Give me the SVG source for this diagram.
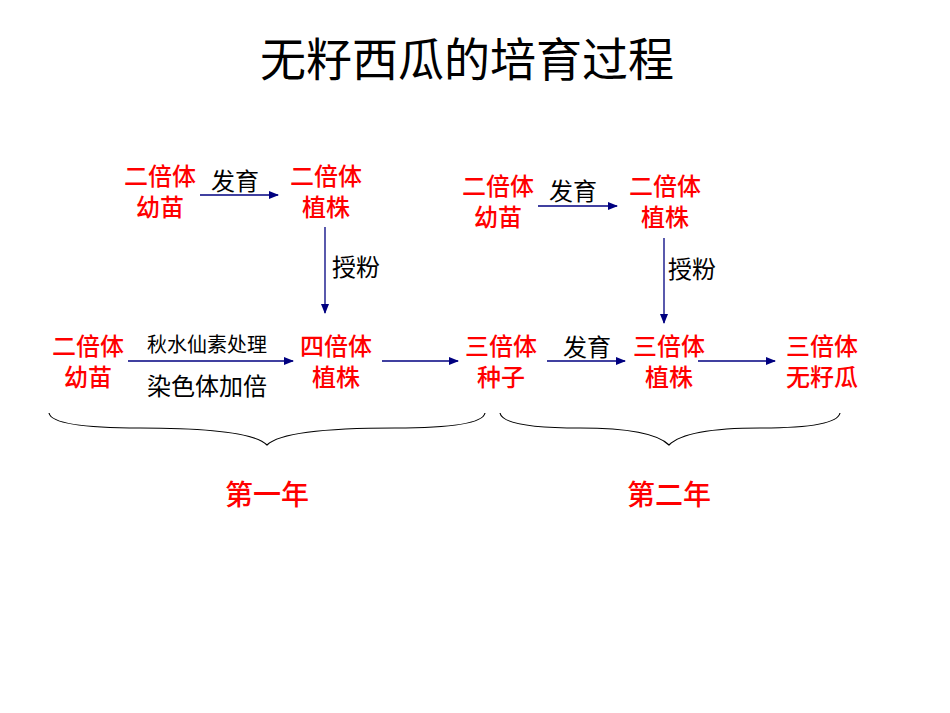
<svg xmlns="http://www.w3.org/2000/svg" width="950" height="713" viewBox="0 0 950 713">
<style>
text{font-family:"Noto Sans CJK SC","Liberation Sans",sans-serif;text-anchor:middle}
.r{fill:#ff0000;font-size:24px;font-weight:500}
.k{fill:#000;font-size:24px}
.s{fill:#000;font-size:20px}
.y{fill:#ff0000;font-size:28px;font-weight:500}
.a{stroke:#000080;stroke-width:1.3;fill:none;marker-end:url(#ah)}
.b{stroke:#000;stroke-width:1.2;fill:none}
</style>
<defs><marker id="ah" markerWidth="10" markerHeight="8" refX="9" refY="4" orient="auto" markerUnits="userSpaceOnUse"><path d="M0,0 L10,4 L0,8z" fill="#000080"/></marker></defs>
<rect width="950" height="713" fill="#fff"/>
<text x="467" y="76" style="font-size:46px;fill:#000">无籽西瓜的培育过程</text>
<g id="connectors">
<path class="a" d="M200,195H278"/>
<path class="a" d="M325,227V313"/>
<path class="a" d="M128,361H293"/>
<path class="a" d="M382,361H458"/>
<path class="a" d="M538,206H617"/>
<path class="a" d="M664,238V323"/>
<path class="a" d="M547,361H625"/>
<path class="a" d="M698,361H775"/>
<path class="b" d="M49,413 Q52,428 140,428 Q250,428 267,445 Q284,428 395,428 Q482,428 485,413"/>
<path class="b" d="M500,413 Q503,428 580,428 Q652,428 669,445 Q686,428 760,428 Q837,428 840,413"/>
</g>
<g id="labels">
<text class="k" x="235" y="190">发育</text>
<text class="k" x="356" y="276">授粉</text>
<text class="s" x="207" y="352">秋水仙素处理</text>
<text class="k" x="207" y="395">染色体加倍</text>
<text class="k" x="573" y="200">发育</text>
<text class="k" x="692" y="278">授粉</text>
<text class="k" x="587" y="356">发育</text>
</g>
<g id="n1"><text class="r" x="160" y="185">二倍体</text><text class="r" x="160" y="216">幼苗</text></g>
<g id="n2"><text class="r" x="326" y="185">二倍体</text><text class="r" x="326" y="216">植株</text></g>
<g id="n3"><text class="r" x="88" y="355">二倍体</text><text class="r" x="88" y="386">幼苗</text></g>
<g id="n4"><text class="r" x="336" y="355">四倍体</text><text class="r" x="336" y="386">植株</text></g>
<g id="n5"><text class="r" x="501" y="355">三倍体</text><text class="r" x="501" y="386">种子</text></g>
<g id="n6"><text class="r" x="498" y="195">二倍体</text><text class="r" x="498" y="226">幼苗</text></g>
<g id="n7"><text class="r" x="665" y="195">二倍体</text><text class="r" x="665" y="226">植株</text></g>
<g id="n8"><text class="r" x="669" y="355">三倍体</text><text class="r" x="669" y="386">植株</text></g>
<g id="n9"><text class="r" x="822" y="355">三倍体</text><text class="r" x="822" y="386">无籽瓜</text></g>
<g id="y1"><text class="y" x="267" y="505">第一年</text></g>
<g id="y2"><text class="y" x="669" y="505">第二年</text></g>
</svg>
